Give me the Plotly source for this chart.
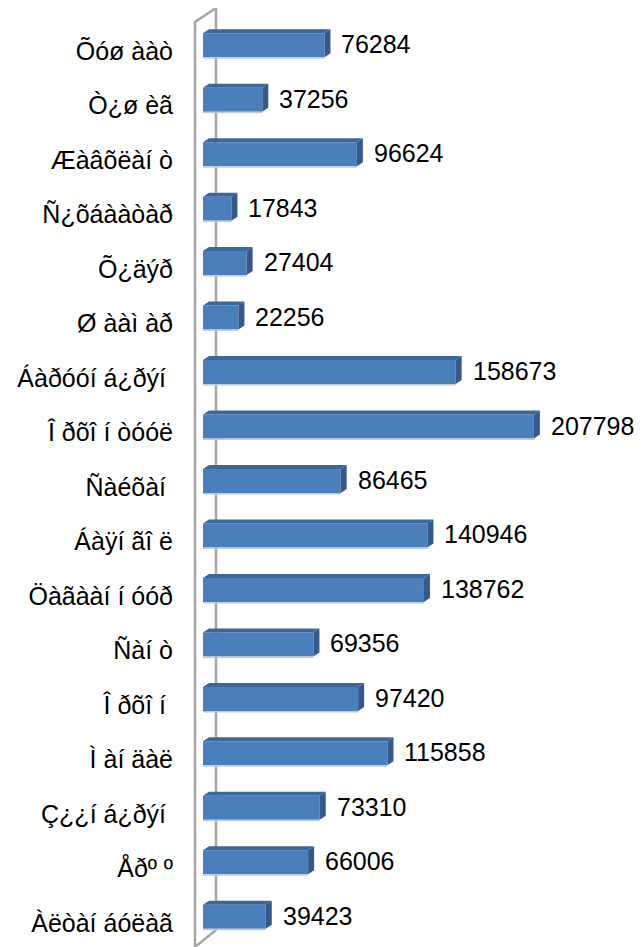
import plotly.graph_objects as go

categories = ["Õóø ààò", "Ò¿ø èã", "Æàâõëàí ò", "Ñ¿õáààòàð", "Õ¿äýð", "Ø ààì àð",
              "Áàðóóí á¿ðýí\u00a0", "Î ðõî í òóóë", "Ñàéõàí\u00a0", "Áàÿí ãî ë",
              "Öàãààí í óóð", "Ñàí ò", "Î ðõî í\u00a0", "Ì àí äàë", "Ç¿¿í á¿ðýí\u00a0",
              "Åðº º", "Àëòàí áóëàã"]
values = [76284, 37256, 96624, 17843, 27404, 22256, 158673, 207798, 86465,
          140946, 138762, 69356, 97420, 115858, 73310, 66006, 39423]

OFF = 8                      # page body margin
W, H = 642 - OFF, 947 - OFF
L, R, T, B = 203 - OFF, 10, 18 - OFF, 3
PW, PH = W - L - R, H - T - B
XMAX = PW * 628.0
PXD = XMAX / PW           # data units per pixel
DX, DY = 6, 4             # 3D depth in pixels
HALF = 12                 # half of front-face height in pixels
idx = list(range(len(categories)))

fig = go.Figure()
fig.add_trace(go.Bar(
    x=values, y=idx, orientation="h", width=2 * HALF / (PH / len(categories)),
    marker=dict(color="#4B7FBC", line=dict(width=0)), hoverinfo="skip"))

shapes = []
def px2paper(x, y):
    return (x - OFF - L) / PW, 1 - (y - OFF - T) / PH

def pth(pts):
    s = ""
    for i, (x, y) in enumerate(pts):
        px, py = px2paper(x, y)
        s += ("M" if i == 0 else "L") + f"{px:.5f},{py:.5f} "
    return s

# wall lines (decoration)
shapes.append(dict(type="path", xref="paper", yref="paper", layer="below",
                   path=pth([(195, 950), (195, 22), (216, 8), (216, 930), (195, 947)]),
                   line=dict(color="#A6A6A6", width=2.5)))

dxd = DX * PXD
for i, v in zip(idx, values):
    shapes.append(dict(type="path", xref="x", yref="y", ysizemode="pixel", yanchor=i,
                       path=f"M0,{HALF} L{v},{HALF} L{v+dxd},{HALF+DY} L{dxd},{HALF+DY} Z",
                       fillcolor="#3D6699", line=dict(width=0), layer="above"))
    shapes.append(dict(type="path", xref="x", yref="y", ysizemode="pixel", yanchor=i,
                       path=f"M{v},{-HALF} L{v+dxd},{-HALF+DY} L{v+dxd},{HALF+DY} L{v},{HALF} Z",
                       fillcolor="#36598A", line=dict(width=0), layer="above"))
    shapes.append(dict(type="path", xref="x", yref="y", ysizemode="pixel", yanchor=i,
                       path=f"M0,{-HALF} L{v},{-HALF} L{v},{-HALF-1.5} L0,{-HALF-1.5} Z",
                       fillcolor="#B7CBE6", line=dict(width=0), layer="above"))

annotations = [dict(x=v, y=i, xref="x", yref="y", text=str(v), showarrow=False,
                    xanchor="left", yanchor="middle", xshift=DX + 9, yshift=1,
                    font=dict(family="Liberation Sans, Arial", size=25, color="#000"))
               for i, v in zip(idx, values)]

fig.update_layout(
    width=W, height=H, margin=dict(l=L, r=R, t=T, b=B),
    paper_bgcolor="white", plot_bgcolor="white", showlegend=False,
    shapes=shapes, annotations=annotations,
    xaxis=dict(range=[0, XMAX], visible=False, fixedrange=True),
    yaxis=dict(range=[len(categories) - 0.5, -0.5], tickvals=idx, ticktext=categories,
               showgrid=False, zeroline=False, showline=False, ticks="",
               ticklabelstandoff=29, ticklabelshift=-6,
               tickfont=dict(family="Liberation Sans, Arial", size=25, color="#000")),
    font=dict(family="Liberation Sans, Arial"),
)
fig.write_html("out.html")
